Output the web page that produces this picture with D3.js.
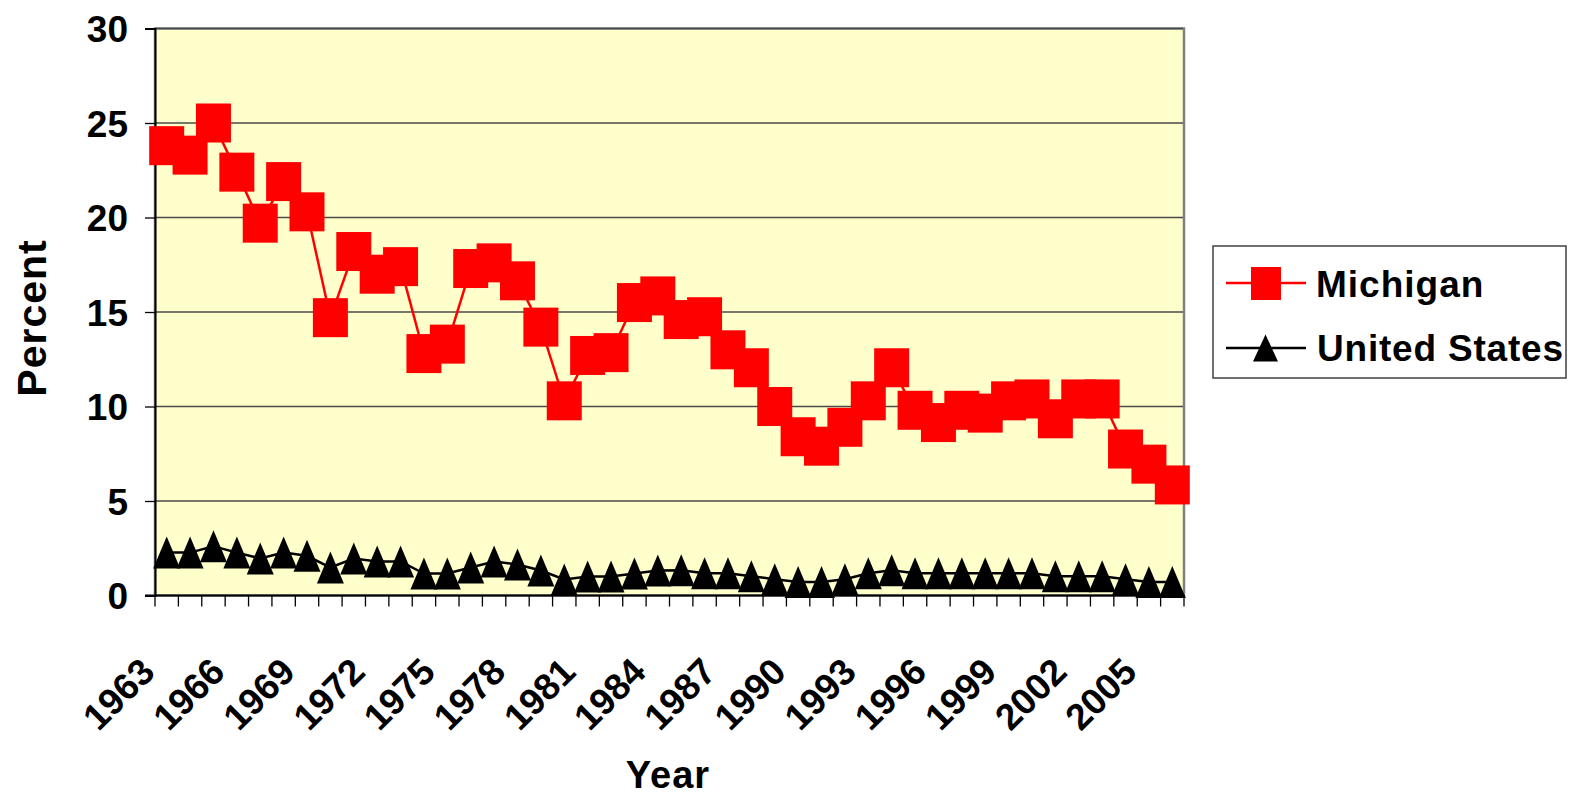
<!DOCTYPE html>
<html>
<head>
<meta charset="utf-8">
<script src="https://cdn.jsdelivr.net/npm/d3@7"></script>
<style>
  html, body { margin: 0; padding: 0; background: #ffffff; }
  svg { display: block; }
  text { font-family: "Liberation Sans", Arial, sans-serif; font-weight: bold; fill: #000; }
</style>
</head>
<body>
<svg id="chart" width="1573" height="799"></svg>
<script>
const years = d3.range(1963, 2007);
const michigan = [23.8, 23.3, 25.0, 22.4, 19.7, 21.9, 20.3, 14.7, 18.2, 17.0,
                  17.4, 12.8, 13.3, 17.3, 17.6, 16.65, 14.2, 10.3, 12.7, 12.85,
                  15.5, 15.85, 14.6, 14.75, 13.0, 12.05, 10.0, 8.4, 7.9, 8.9,
                  10.3, 12.05, 9.8, 9.15, 9.8, 9.65, 10.3, 10.4, 9.35, 10.4,
                  10.4, 7.75, 6.95, 5.85];
const unitedStates = [2.27, 2.27, 2.6, 2.27, 1.96, 2.27, 2.1, 1.48, 1.96, 1.8,
                      1.8, 1.16, 1.16, 1.48, 1.8, 1.64, 1.32, 0.85, 1.0, 1.0,
                      1.16, 1.32, 1.34, 1.18, 1.18, 1.02, 0.86, 0.71, 0.71, 0.86,
                      1.18, 1.34, 1.18, 1.18, 1.18, 1.18, 1.18, 1.18, 1.02, 1.02,
                      1.02, 0.86, 0.71, 0.71];
const yTicks = [0, 5, 10, 15, 20, 25, 30];
const yearLabels = [1963, 1966, 1969, 1972, 1975, 1978, 1981, 1984, 1987, 1990, 1993, 1996, 1999, 2002, 2005];
const seriesNames = ["Michigan", "United States"];

const svg = d3.select("#chart");
const L = 155, R = 1184, T = 28.5, B = 595.5;

const x = d3.scaleBand().domain(years).range([L, R]).padding(0);
const y = d3.scaleLinear().domain([0, 30]).range([B, T]);
const cx = d => x(d) + x.bandwidth() / 2;

// plot area
svg.append("rect").attr("x", L).attr("y", T).attr("width", R - L).attr("height", B - T)
  .attr("fill", "#FFFFCC").attr("stroke", "#808080").attr("stroke-width", 2.5);

// gridlines
svg.append("g").selectAll("line").data(yTicks.filter(v => v > 0)).join("line")
  .attr("x1", L).attr("x2", R - 1).attr("y1", d => y(d)).attr("y2", d => y(d))
  .attr("stroke", "#4a4a4a").attr("stroke-width", 1.5);

// y axis
const yAxis = d3.axisLeft(y).tickValues(yTicks).tickSize(10).tickPadding(17).tickFormat(d3.format("d"));
const gy = svg.append("g").attr("transform", `translate(${L},0)`).call(yAxis);
gy.select(".domain").attr("stroke", "#000").attr("stroke-width", 2);
gy.selectAll(".tick line").attr("stroke", "#000").attr("stroke-width", 1.3);
gy.selectAll(".tick text").style("font-size", "37px").style("font-family", "Liberation Sans, Arial, sans-serif")
  .style("font-weight", "bold").attr("fill", "#000").attr("dy", "0.36em");

// x axis: ticks at category boundaries
const boundaries = years.map(d => x(d)).concat([R]);
svg.append("g").selectAll("line").data(boundaries).join("line")
  .attr("x1", d => d).attr("x2", d => d).attr("y1", B).attr("y2", B + 11)
  .attr("stroke", "#000").attr("stroke-width", 1.3);
svg.append("line").attr("x1", L - 10).attr("x2", R).attr("y1", B).attr("y2", B)
  .attr("stroke", "#000").attr("stroke-width", 2);

svg.append("g").selectAll("text").data(yearLabels).join("text")
  .attr("transform", d => `translate(${cx(d) - 10},674) rotate(-45)`)
  .attr("text-anchor", "end")
  .style("font-size", "37px")
  .text(d => d);

// axis titles
svg.append("text").attr("transform", "translate(46,318) rotate(-90)")
  .attr("text-anchor", "middle").style("font-size", "41px").style("letter-spacing", "1px").text("Percent");
svg.append("text").attr("x", 668).attr("y", 788).attr("text-anchor", "middle")
  .style("font-size", "38px").style("letter-spacing", "1px").text("Year");

// series
const line = d3.line().x((d, i) => cx(years[i])).y(d => y(d));
const triPath = (w, h) => `M0,${-h / 2}L${w / 2},${h / 2}L${-w / 2},${h / 2}Z`;

svg.append("path").datum(michigan).attr("d", line).attr("fill", "none")
  .attr("stroke", "#FF0000").attr("stroke-width", 2.5);
svg.append("g").selectAll("rect").data(michigan).join("rect")
  .attr("x", (d, i) => cx(years[i]) - 17.5).attr("y", d => y(d) - 19.5)
  .attr("width", 35).attr("height", 39).attr("fill", "#FF0000");

svg.append("path").datum(unitedStates).attr("d", line).attr("fill", "none")
  .attr("stroke", "#000").attr("stroke-width", 2.5);
svg.append("g").selectAll("path").data(unitedStates).join("path")
  .attr("transform", (d, i) => `translate(${cx(years[i])},${y(d)})`)
  .attr("d", triPath(27, 32)).attr("fill", "#000");

// legend
const lg = svg.append("g");
lg.append("rect").attr("x", 1213).attr("y", 246).attr("width", 353).attr("height", 132)
  .attr("fill", "#fff").attr("stroke", "#404040").attr("stroke-width", 1.5);
lg.append("line").attr("x1", 1226).attr("x2", 1306).attr("y1", 283).attr("y2", 283)
  .attr("stroke", "#FF0000").attr("stroke-width", 2.5);
lg.append("rect").attr("x", 1251).attr("y", 267).attr("width", 30).attr("height", 33).attr("fill", "#FF0000");
lg.append("text").attr("x", 1316).attr("y", 297).style("font-size", "37px").style("letter-spacing", "1px").text(seriesNames[0]);
lg.append("line").attr("x1", 1226).attr("x2", 1306).attr("y1", 348).attr("y2", 348)
  .attr("stroke", "#000").attr("stroke-width", 2.5);
lg.append("path").attr("transform", "translate(1265.5,348)").attr("d", triPath(25, 27)).attr("fill", "#000");
lg.append("text").attr("x", 1317).attr("y", 361).style("font-size", "37px").style("letter-spacing", "0.8px").text(seriesNames[1]);
</script>
</body>
</html>
